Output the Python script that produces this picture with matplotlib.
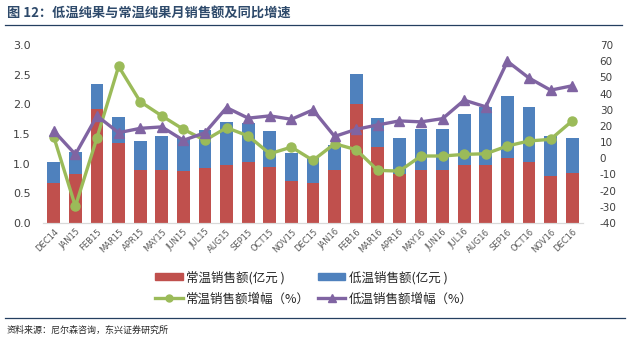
import numpy as np
import matplotlib
matplotlib.use("Agg")
import matplotlib.pyplot as plt
from matplotlib.lines import Line2D
from matplotlib.patches import Patch

plt.rcParams['font.family'] = ['Noto Sans CJK SC', 'DejaVu Sans']
plt.rcParams['axes.unicode_minus'] = False

months = ["DEC14", "JAN15", "FEB15", "MAR15", "APR15", "MAY15", "JUN15", "JUL15",
          "AUG15", "SEP15", "OCT15", "NOV15", "DEC15", "JAN16", "FEB16", "MAR16",
          "APR16", "MAY16", "JUN16", "JUL16", "AUG16", "SEP16", "OCT16", "NOV16", "DEC16"]
# 常温销售额 (亿元)
ambient_sales = [0.68, 0.82, 1.92, 1.35, 0.89, 0.89, 0.88, 0.93, 0.97, 1.02, 0.94, 0.71, 0.68,
                 0.89, 2.00, 1.28, 0.83, 0.89, 0.89, 0.97, 0.98, 1.09, 1.03, 0.80, 0.84]
# 低温销售额 (亿元)
chilled_sales = [0.34, 0.37, 0.42, 0.44, 0.50, 0.57, 0.55, 0.64, 0.73, 0.66, 0.61, 0.47, 0.42,
                 0.42, 0.51, 0.49, 0.60, 0.70, 0.70, 0.86, 0.98, 1.05, 0.92, 0.66, 0.60]
# 增幅 (%)
ambient_growth = [13.2, -29.7, 12.7, 56.8, 35.0, 26.2, 17.9, 11.1, 18.9, 13.8, 2.8, 6.9, -1.3,
                  9.0, 5.3, -7.5, -7.9, 1.4, 1.4, 2.4, 2.8, 7.6, 10.7, 11.7, 23.1]
chilled_growth = [16.9, 2.4, 26.2, 15.8, 18.5, 19.4, 11.1, 15.8, 31.3, 24.8, 26.2, 24.1, 29.9,
                  13.5, 17.9, 20.6, 23.1, 22.5, 24.5, 35.9, 31.8, 59.9, 49.6, 42.1, 44.8]

RED, BLUE, GREEN, PURPLE = "#C0504D", "#4F81BD", "#9BBB59", "#8064A2"
TXT = "#404040"

fig = plt.figure(figsize=(6.4, 3.38), dpi=100)
ax = fig.add_axes([43 / 640, 1 - 223 / 338, 540 / 640, 178 / 338])
ax2 = ax.twinx()

x = np.arange(len(months))
ax.bar(x, ambient_sales, width=0.6, color=RED, zorder=2)
ax.bar(x, chilled_sales, width=0.6, bottom=ambient_sales, color=BLUE, zorder=2)
ax.set_xlim(-0.5, len(months) - 0.5)
ax.set_ylim(0, 3.0)
ax.set_yticks(np.arange(0, 3.01, 0.5))
ax.set_yticklabels([f"{v:.1f}" for v in np.arange(0, 3.01, 0.5)])
ax.set_xticks(x)
ax.set_xticklabels(months, rotation=45, ha="right", rotation_mode="anchor",
                   fontsize=6, color="#595959", family="DejaVu Sans")
ax.tick_params(axis="y", length=0, pad=9, labelsize=8, labelcolor=TXT)
ax.tick_params(axis="x", length=0, pad=3)

ax2.plot(x, ambient_growth, color=GREEN, lw=2.4, marker="o", ms=6.5, zorder=3)
ax2.plot(x, chilled_growth, color=PURPLE, lw=2.4, marker="^", ms=7, zorder=4)
ax2.set_ylim(-40, 70)
ax2.set_yticks(np.arange(-40, 71, 10))
ax2.tick_params(axis="y", length=0, pad=12, labelsize=7.5, labelcolor=TXT)
for lab in ax2.get_yticklabels():
    lab.set_family("DejaVu Sans")
for lab in ax.get_yticklabels():
    lab.set_family("DejaVu Sans")

for a in (ax, ax2):
    for s in ("top", "left", "right"):
        a.spines[s].set_visible(False)
    a.spines["bottom"].set_color("#D9D9D9")

handles = [Patch(color=RED),
           Line2D([], [], color=GREEN, lw=2.4, marker="o", ms=5),
           Patch(color=BLUE),
           Line2D([], [], color=PURPLE, lw=2.4, marker="^", ms=6)]
labels = ["常温销售额(亿元 )", "常温销售额增幅（%）", "低温销售额(亿元 )", "低温销售额增幅（%）"]
fig.legend(handles, labels, ncol=2, loc="center", bbox_to_anchor=(314 / 640, 1 - 288 / 338),
           frameon=False, fontsize=9, handlelength=2.2, handleheight=0.5,
           columnspacing=0.6, handletextpad=0.3, labelspacing=0.65, labelcolor="#262626")

fig.text(7 / 640, 1 - 14 / 338, "图 12：低温纯果与常温纯果月销售额及同比增速",
         fontsize=9.5, fontweight="bold", color="#2E4A6B", va="center")
fig.add_artist(Line2D([5 / 640, 622 / 640], [1 - 25 / 338] * 2, color="#243F60", lw=0.9))
fig.add_artist(Line2D([5 / 640, 625 / 640], [1 - 318 / 338] * 2, color="#243F60", lw=0.9))
fig.text(7 / 640, 1 - 330 / 338, "资料来源：尼尔森咨询，东兴证券研究所",
         fontsize=6.5, color="#262626", va="center", style="italic")

fig.savefig("out.png", dpi=100)
